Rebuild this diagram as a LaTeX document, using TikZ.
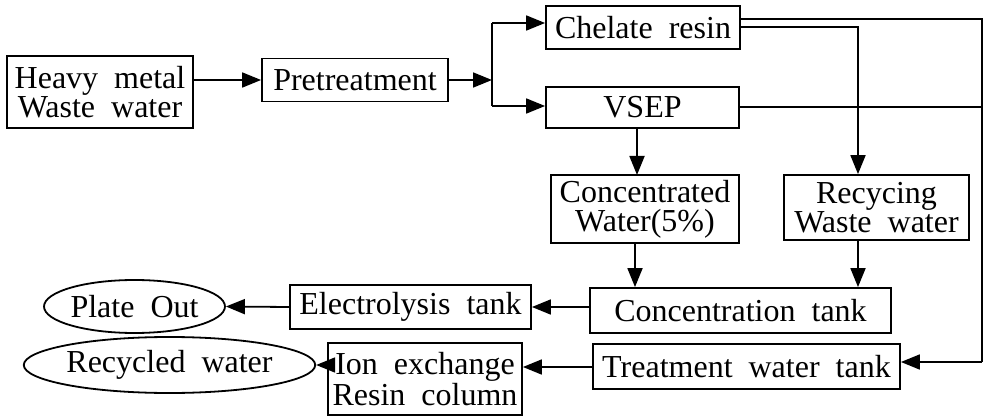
\documentclass[tikz,border=0pt]{standalone}
\usepackage{fontspec}
\setmainfont{Liberation Serif}[WordSpace=2]
\usetikzlibrary{shapes.geometric,arrows.meta}
\begin{document}
\begin{tikzpicture}[x=1pt,y=-1pt,
  box/.style={draw,line width=1.8pt,rectangle,inner sep=0pt,align=center,font=\fontsize{32}{29}\selectfont},
  oval/.style={draw,line width=1.8pt,ellipse,inner sep=0pt,font=\fontsize{32}{29}\selectfont},
  arr/.style={line width=1.8pt,-{Triangle[length=19pt,width=15pt]}},
  ln/.style={line width=1.8pt}]
\useasboundingbox (0,0) rectangle (983,417);
\node[box,minimum width=186pt,minimum height=72pt] (heavy) at (100,92) {Heavy metal\\Waste water};
\node[box,minimum width=186pt,minimum height=43pt] (pre) at (355,80) {Pretreatment};
\node[box,minimum width=194pt,minimum height=43pt] (chel) at (643,27.5) {Chelate resin};
\node[box,minimum width=193pt,minimum height=41pt] (vsep) at (642.5,107.5) {VSEP};
\node[box,minimum width=188pt,minimum height=68pt] (conc) at (645,209) {Concentrated\\Water(5\%)};
\node[box,minimum width=185pt,minimum height=65pt] (recy) at (876.5,207.5) {Recycing\\Waste water};
\node[box,minimum width=301pt,minimum height=45pt] (ctank) at (740.5,310.5) {Concentration tank};
\node[box,minimum width=307pt,minimum height=45pt] (ttank) at (746.5,366.5) {Treatment water tank};
\node[box,minimum width=241pt,minimum height=44pt] (elec) at (410.5,307) {Electrolysis tank};
\node[box,minimum width=194pt,minimum height=72pt] (ion) at (425,379) {Ion exchange\\Resin column};
\node[oval,minimum width=155pt,minimum height=53pt] (plate) at (134.5,306.5) {Plate Out};
\node[oval,minimum width=235pt,minimum height=56pt] (recw) at (169.5,365) {Recycled water};
\coordinate (br) at (492,80);
\coordinate (brt) at (492,23);
\coordinate (brb) at (492,106);
\coordinate (rt) at (982,19);
\coordinate (rv) at (982,107);
\coordinate (rb) at (982,362);
\coordinate (mt) at (858,27);
% connectors
\draw[arr] (heavy.east |- pre) -- (pre.west);
\draw[arr] (pre.east) -- (br);
\draw[ln] (brt) -- (brb);
\draw[arr] (brt) -- (brt -| chel.west);
\draw[arr] (brb) -- (brb -| vsep.west);
\draw[ln] (chel.east |- rt) -- (rt) -- (rb);
\draw[arr] (rb) -- (rb -| ttank.east);
\draw[arr] (chel.east |- mt) -- (mt) -- (mt |- recy.north);
\draw[ln] (vsep.east |- rv) -- (rv);
\draw[arr] (637,128) -- (637,175);
\draw[arr] (conc.south -| 635,0) -- (ctank.north -| 635,0);
\draw[arr] (recy.south -| mt) -- (ctank.north -| mt);
\draw[arr] (ctank.west |- elec) -- (elec.east);
\draw[arr] (elec.west) -- (plate.east);
\draw[arr] (ttank.west |- 0,367) -- (ion.east |- 0,367);
\draw[arr] (ion.west |- recw) -- (recw.east);
\end{tikzpicture}
\end{document}
